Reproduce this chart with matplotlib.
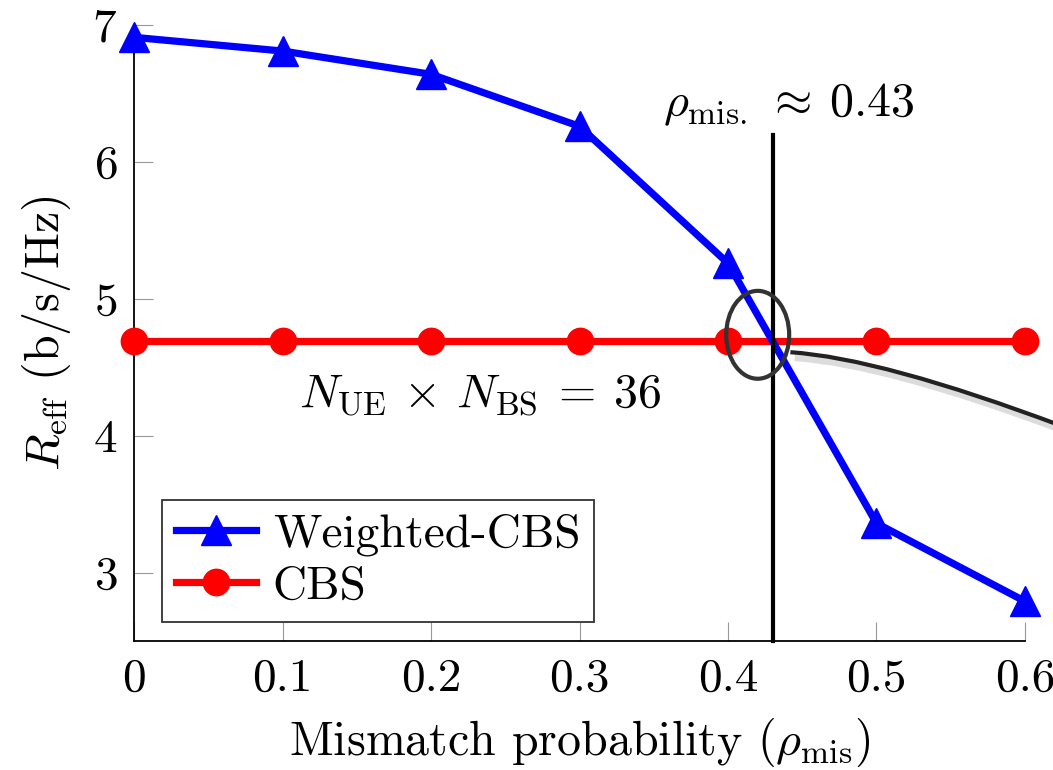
import matplotlib
matplotlib.use('Agg')
import matplotlib.pyplot as plt
from matplotlib.patches import Ellipse, PathPatch
from matplotlib.path import Path

plt.rcParams['font.family'] = ['cmr10']
plt.rcParams['mathtext.fontset'] = 'cm'
plt.rcParams['axes.unicode_minus'] = False
plt.rcParams['axes.formatter.use_mathtext'] = True

# data
rho = [0.0, 0.1, 0.2, 0.3, 0.4, 0.5, 0.6]
weighted_cbs = [6.91, 6.81, 6.64, 6.26, 5.26, 3.36, 2.79]
cbs = [4.69, 4.69, 4.69, 4.69, 4.69, 4.69, 4.69]
x_ticks = [0, 0.1, 0.2, 0.3, 0.4, 0.5, 0.6]
x_tick_labels = ['0', '0.1', '0.2', '0.3', '0.4', '0.5', '0.6']
y_ticks = [3, 4, 5, 6, 7]
rho_cross = 0.43

fig = plt.figure(figsize=(10.53, 7.7), dpi=100)
ax = fig.add_axes([0.1273, 0.1675, 0.8461, 0.8])

ax.plot(rho, weighted_cbs, color='#0000ff', lw=5.2, marker='^', ms=21,
        label='Weighted-CBS', clip_on=False, zorder=4)
ax.plot(rho, cbs, color='#ff0000', lw=5.2, marker='o', ms=19,
        label='CBS', clip_on=False, zorder=3)

# crossing marker line
ax.plot([rho_cross, rho_cross], [2.5, 6.2], color='black', lw=3, zorder=5, clip_on=False)
ax.text(rho_cross + 0.0105, 6.42, r'$\rho_{\mathrm{mis.}}\:\approx\:0.43$',
        fontsize=34.5, ha='center', va='center')
ax.text(0.233, 4.30, r'$N_{\mathrm{UE}}\,\times\,N_{\mathrm{BS}}\:=\:36$',
        fontsize=34.5, ha='center', va='center')

# ellipse around the crossing
ax.add_patch(Ellipse((0.420, 4.737), 0.0424, 0.642, fill=False,
                     edgecolor='#333333', lw=3, zorder=6, clip_on=False))

# connecting curve (with soft shadow)
curve_pts = [(0.442, 4.61), (0.503, 4.567), (0.625, 4.07)]
codes = [Path.MOVETO, Path.CURVE3, Path.CURVE3]
for dx, dy, c, w, a in [(0.003, -0.04, '#bbbbbb', 5, 0.5), (0.0, 0.0, '#222222', 3, 1)]:
    pts = [(x + dx, y + dy) for x, y in curve_pts]
    ax.add_patch(PathPatch(Path(pts, codes), fill=False, edgecolor=c, lw=w,
                           alpha=a, clip_on=False, zorder=2))

ax.set_xlim(0, 0.6)
ax.set_ylim(2.5, 7)
ax.set_xticks(x_ticks)
ax.set_xticklabels(x_tick_labels)
ax.set_yticks(y_ticks)
ax.tick_params(direction='in', length=14, width=0.8, color='#999999',
               labelsize=34, pad=12)
for s in ['top', 'right']:
    ax.spines[s].set_visible(False)
for s in ['left', 'bottom']:
    ax.spines[s].set_linewidth(1.3)

ax.set_xlabel(r'Mismatch probability ($\rho_{\mathrm{mis}}$)', fontsize=34.5, labelpad=12)
ax.set_ylabel(r'$R_{\mathrm{eff}}$ (b/s/Hz)', fontsize=34.5, labelpad=14)

leg = ax.legend(loc='lower left', bbox_to_anchor=(0.031, 0.031), borderaxespad=0,
                fontsize=34, fancybox=False, framealpha=1, edgecolor='#333333',
                handlelength=1.7, handletextpad=0.35, borderpad=0.3, labelspacing=0.2)
leg.get_frame().set_linewidth(1.3)

fig.savefig('out.png', dpi=100)
